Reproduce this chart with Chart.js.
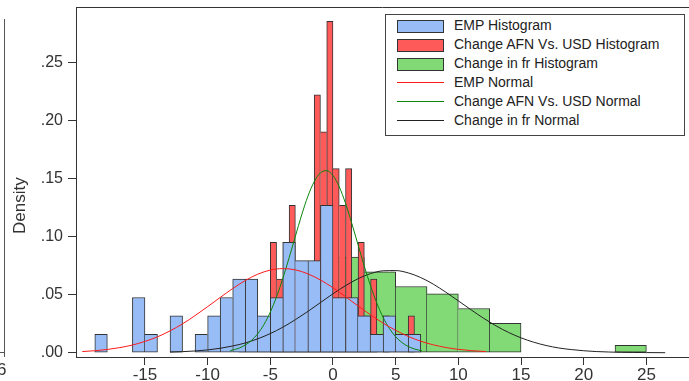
<!DOCTYPE html>
<html>
<head>
<meta charset="utf-8">
<script src="https://cdn.jsdelivr.net/npm/chart.js@4.4.1/dist/chart.umd.min.js"></script>
<style>
  body { margin: 0; background: #fff; }
  #wrap { position: relative; width: 689px; height: 381px; overflow: hidden; font-family: "Liberation Sans", Arial, sans-serif; }
  #chart { position: absolute; left: 0; top: 0; }
  #legend { position: absolute; left: 385px; top: 14px; width: 300px; height: 122px; box-sizing: border-box;
            border: 1px solid #444; background: #fff; padding: 0 0 0 11px; z-index: 2; }
  #legend .row { height: 19px; display: flex; align-items: center; font-size: 14px; color: #222; white-space: nowrap; }
  #legend .key { width: 47px; margin-right: 10px; box-sizing: border-box; position: relative; }
  #legend .box { height: 13px; border: 1px solid #333; top: 2px; }
  #legend .line { height: 0; border-top: 1px solid; top: 1px; }
  /* edge of the neighbouring panel, cropped */
  #prev { position: absolute; left: 0; top: 19px; width: 4px; height: 333px; border-right: 1px solid #555; border-bottom: 1px solid #555; }
  #prevTick { position: absolute; left: 4px; top: 353px; height: 4px; border-left: 1px solid #555; }
  #prevLbl { position: absolute; left: -3px; top: 361px; font-size: 17px; line-height: 17px; color: #333; }
</style>
</head>
<body>
<div id="wrap">
  <canvas id="chart" width="689" height="381"></canvas>
  <div id="prev"></div><div id="prevTick"></div><div id="prevLbl">6</div>
  <div id="legend"></div>
</div>
<script>
// axis ticks
var xTicks = [-15, -10, -5, 0, 5, 10, 15, 20, 25];
var yTicks = [0, 0.05, 0.10, 0.15, 0.20, 0.25];

// EMP histogram (bin width 1)
var empBins = [-18.5, -17.5, -16.5, -15.5, -14.5, -13.5, -12.5, -11.5, -10.5, -9.5, -8.5, -7.5, -6.5,
               -5.5, -4.5, -3.5, -2.5, -1.5, -0.5, 0.5, 1.5, 2.5, 3.5, 4.5, 5.5, 6.5];
var empDensity = [.0159, 0, 0, .0476, .0159, 0, .0317, 0, .0159, .0317, .0476, .0635, .0635,
                  .0317, .0476, .0952, .0794, .0794, .127, .0476, .0476, .0317, .0159, .0317, .0159, .0159];

// Change AFN vs USD histogram (bin width 0.5)
var afnBins = [-4.75, -4.25, -3.75, -3.25, -2.75, -2.25, -1.75, -1.25, -0.75, -0.25, 0.25, 0.75,
               1.25, 1.75, 2.25, 2.75, 3.25, 3.75, 4.25, 4.75, 5.25, 5.75, 6.25];
var afnDensity = [.0952, .0635, .0952, .127, .0635, .0635, .0635, .2222, .1905, .2857, .1587, .127,
                  .1587, .0317, .0952, .0317, .0635, 0, .0317, 0, 0, 0, .0317];

// Change in fr histogram (bin width 2.5)
var frBins = [-6.25, -3.75, -1.25, 1.25, 3.75, 6.25, 8.75, 11.25, 13.75, 16.25, 18.75, 21.25, 23.75];
var frDensity = [.0063, .019, .0444, .0825, .0698, .0571, .0508, .0381, .0254, 0, 0, 0, .0063];

// normal curves
var empNormX = [-20, -19, -18, -17, -16, -15, -14, -13, -12, -11, -10, -9, -8, -7, -6, -5, -4, -3, -2, -1,
                0, 1, 2, 3, 4, 5, 6, 7, 8, 9, 10, 11, 12.2];
var empNormY = [.0010, .0017, .0028, .0044, .0066, .0097, .0137, .0188, .0249, .0320, .0397, .0476, .0553,
                .0622, .0677, .0712, .0725, .0714, .0680, .0627, .0560, .0483, .0403, .0326, .0255, .0193,
                .0141, .0099, .0068, .0045, .0029, .0018, .0010];

var afnNormX = [-8.2, -7.5, -7, -6.5, -6, -5.5, -5, -4.5, -4, -3.5, -3, -2.5, -2, -1.5, -1, -0.5,
                0, 0.5, 1, 1.5, 2, 2.5, 3, 3.5, 4, 4.5, 5, 5.5, 6, 6.5, 7.1];
var afnNormY = [.0018, .0039, .0066, .0106, .0164, .0244, .0350, .0483, .0641, .0818, .1004, .1187, .1349,
                .1474, .1551, .1569, .1527, .1430, .1288, .1115, .0930, .0745, .0575, .0427, .0304, .0209,
                .0138, .0088, .0054, .0032, .0016];

var frNormX = [-13, -12, -11, -10, -9, -8, -7, -6, -5, -4, -3, -2, -1, 0, 1, 2, 3, 4, 5, 6, 7, 8, 9, 10,
               11, 12, 13, 14, 15, 16, 17, 18, 19, 20, 21, 22, 23, 24, 25, 26.5];
var frNormY = [.0005, .0009, .0015, .0024, .0038, .0058, .0084, .0120, .0165, .0220, .0285, .0356, .0432,
               .0508, .0578, .0638, .0682, .0706, .0708, .0688, .0648, .0591, .0522, .0447, .0371, .0298,
               .0232, .0175, .0128, .0091, .0062, .0041, .0027, .0017, .0010, .0006, .0003, .0002, .0001, 0];

var xMin = -20.5, xMax = 28.4;
var textCol = '#333';
var font = '"Liberation Sans", Arial, sans-serif';

function points(xs, ys) {
    return xs.map(function(x, i) { return {x: x, y: ys[i] === 0 ? null : ys[i]}; });
}

// shared edges between adjacent bars are drawn once, by the taller bar
function edges(vals) {
    return function(ctx) {
        var i = ctx.dataIndex;
        if (i === undefined) return 1;
        var v = vals[i] || 0, prev = vals[i - 1] || 0, next = vals[i + 1] || 0;
        return {top: 1, bottom: 1, left: prev <= v ? 1 : 0, right: next < v ? 1 : 0};
    };
}

function setTicks(list) {
    return function(scale) { scale.ticks = list.map(function(v) { return {value: v}; }); };
}

function hist(label, bins, vals, color, axis, order) {
    return {
        type: 'bar', label: label, data: points(bins, vals), xAxisID: axis, order: order,
        backgroundColor: color, borderColor: '#333', borderWidth: edges(vals), borderSkipped: false,
        barPercentage: 1, categoryPercentage: 1, grouped: false
    };
}

function curve(label, xs, ys, color) {
    return {
        type: 'line', label: label, data: xs.map(function(x, i) { return {x: x, y: ys[i]}; }),
        xAxisID: 'x', order: 0, borderColor: color, borderWidth: 1, pointRadius: 0,
        cubicInterpolationMode: 'monotone', fill: false
    };
}

var frameTop = {
    id: 'frameTop',
    afterDraw: function(chart) {
        var a = chart.chartArea, c = chart.ctx;
        c.save();
        c.strokeStyle = '#333';
        c.lineWidth = 1;
        c.beginPath();
        c.moveTo(a.left, Math.round(a.top) + 0.5);
        c.lineTo(a.right, Math.round(a.top) + 0.5);
        c.stroke();
        c.restore();
    }
};

function hiddenX() {
    return {type: 'linear', display: false, offset: false, min: xMin, max: xMax, afterBuildTicks: setTicks(xTicks)};
}

var ctx = document.getElementById('chart').getContext('2d');
var myChart = new Chart(ctx, {
    type: 'bar',
    data: {
        datasets: [
            hist('EMP Histogram', empBins, empDensity, '#97BCF6', 'x', 1),
            hist('Change AFN Vs. USD Histogram', afnBins, afnDensity, '#FF5A5A', 'xr', 2),
            hist('Change in fr Histogram', frBins, frDensity, '#82DA77', 'xg', 3),
            curve('EMP Normal', empNormX, empNormY, '#ff1a1a'),
            curve('Change AFN Vs. USD Normal', afnNormX, afnNormY, '#0a850a'),
            curve('Change in fr Normal', frNormX, frNormY, '#222')
        ]
    },
    options: {
        responsive: false,
        animation: false,
        layout: {padding: {top: 7, left: 0, right: 0, bottom: 0}},
        plugins: {legend: {display: false}, tooltip: {enabled: false}},
        scales: {
            x: {
                type: 'linear', min: xMin, max: xMax, position: 'bottom', offset: false,
                afterBuildTicks: setTicks(xTicks),
                afterFit: function(s) { s.height = 24; s.paddingLeft = 0; s.paddingRight = 0; },
                border: {display: true, color: '#333', width: 1},
                grid: {offset: false, drawOnChartArea: false, drawTicks: true, tickLength: 8, color: '#333', lineWidth: 1},
                ticks: {color: textCol, font: {family: font, size: 17}, padding: 0, maxRotation: 0}
            },
            xr: hiddenX(),
            xg: hiddenX(),
            y: {
                type: 'linear', min: -0.0037, max: 0.298,
                afterBuildTicks: setTicks(yTicks),
                afterFit: function(s) { s.width = 76; s.paddingTop = 0; s.paddingBottom = 0; },
                border: {display: true, color: '#333', width: 1},
                grid: {drawOnChartArea: false, drawTicks: true, tickLength: 8, color: '#333', lineWidth: 1},
                ticks: {
                    color: textCol, font: {family: font, size: 16}, padding: 5,
                    callback: function(v) { return v.toFixed(2).replace(/^0/, ''); }
                },
                title: {
                    display: true, text: 'Density' + '\u00a0'.repeat(10), color: textCol,
                    font: {family: font, size: 17}, padding: {top: 10, bottom: 0}
                }
            }
        }
    },
    plugins: [frameTop]
});

// legend box inside the plot, built from the datasets
var legendBox = document.getElementById('legend');
myChart.data.datasets.forEach(function(ds) {
    var row = document.createElement('div');
    row.className = 'row';
    var key = document.createElement('span');
    if (ds.type === 'line') {
        key.className = 'key line';
        key.style.borderTopColor = ds.borderColor;
    } else {
        key.className = 'key box';
        key.style.background = ds.backgroundColor;
    }
    var txt = document.createElement('span');
    txt.textContent = ds.label;
    row.appendChild(key);
    row.appendChild(txt);
    legendBox.appendChild(row);
});
</script>
</body>
</html>
